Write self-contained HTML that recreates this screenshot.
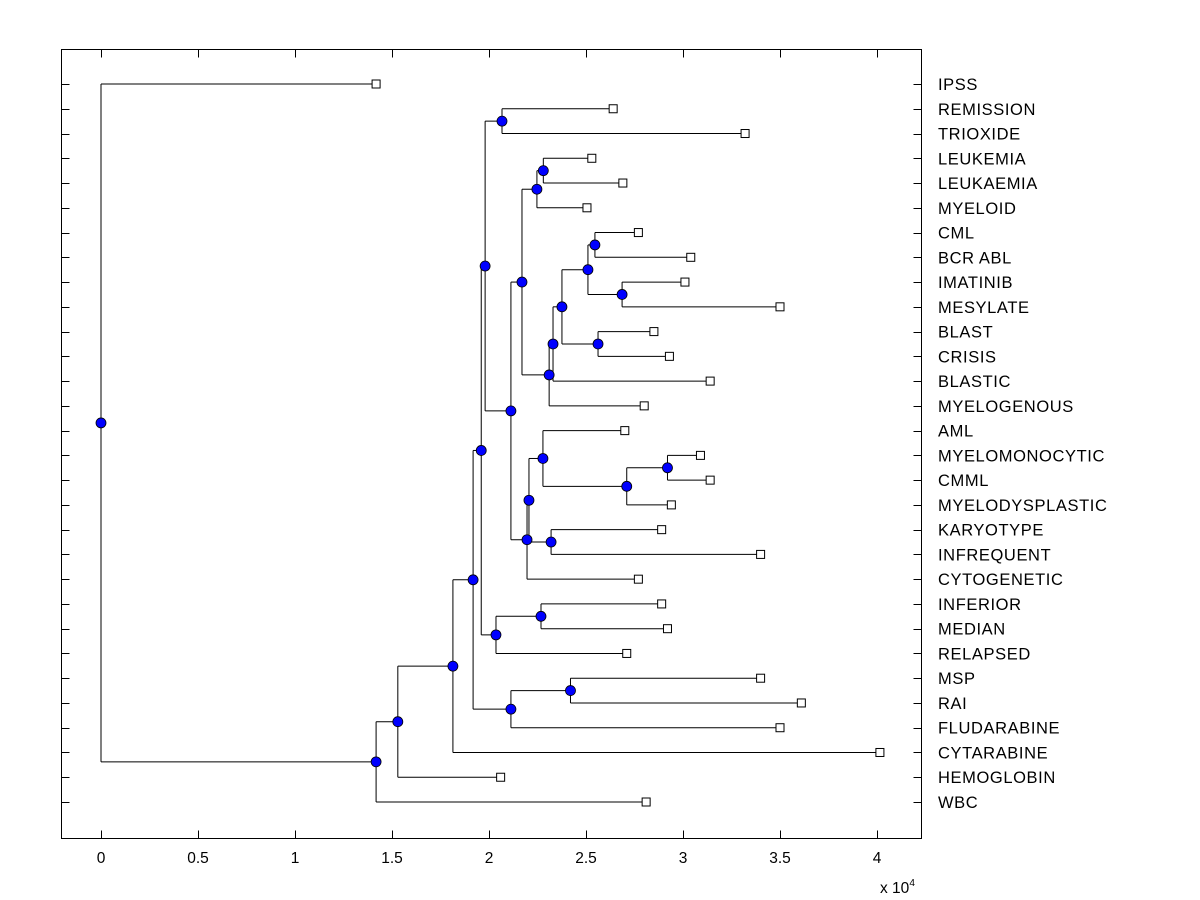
<!DOCTYPE html>
<html><head><meta charset="utf-8"><style>
html,body{margin:0;padding:0;background:#fff;}
svg{display:block;font-family:"Liberation Sans",Arial,sans-serif;}
</style></head><body>
<svg id="chart" width="1200" height="900" viewBox="0 0 1200 900" xmlns="http://www.w3.org/2000/svg">
<rect x="0" y="0" width="1200" height="900" fill="#fff"/>
<g id="axes"></g>
<g id="tree"></g>
<g id="labels"></g>
</svg>
<script>
const leafNames = ["IPSS","REMISSION","TRIOXIDE","LEUKEMIA","LEUKAEMIA","MYELOID","CML","BCR ABL","IMATINIB","MESYLATE","BLAST","CRISIS","BLASTIC","MYELOGENOUS","AML","MYELOMONOCYTIC","CMML","MYELODYSPLASTIC","KARYOTYPE","INFREQUENT","CYTOGENETIC","INFERIOR","MEDIAN","RELAPSED","MSP","RAI","FLUDARABINE","CYTARABINE","HEMOGLOBIN","WBC"];
const leafValues = [1.418,2.64,3.32,2.53,2.69,2.505,2.77,3.04,3.01,3.50,2.85,2.93,3.14,2.80,2.70,3.09,3.14,2.94,2.89,3.40,2.77,2.89,2.92,2.71,3.40,3.61,3.50,4.015,2.06,2.81];
const mergeLeft  = [15,30,6,8,10,32,35,36,37,3,39,40,14,18,42,44,41,1,47,21,49,48,24,52,51,54,55,56,0];
const mergeRight = [16,17,7,9,11,33,34,12,13,4,5,38,31,19,43,20,45,2,46,22,23,50,25,26,53,27,28,29,57];
const mergeHeight= [2.92,2.71,2.546,2.686,2.562,2.51,2.376,2.33,2.31,2.28,2.247,2.17,2.278,2.32,2.206,2.196,2.113,2.067,1.98,2.268,2.036,1.96,2.42,2.113,1.918,1.814,1.53,1.418,0];
const xTicks = [0,0.5,1,1.5,2,2.5,3,3.5,4];

const NS="http://www.w3.org/2000/svg";
const L=61.5,R=921.5,T=49.5,B=838.5;
const xS=v=>101+v*194;
const rowY=i=>84+i*(802-84)/29;
function mk(tag,attrs,parent){const e=document.createElementNS(NS,tag);for(const k in attrs)e.setAttribute(k,attrs[k]);parent.appendChild(e);return e;}
const axes=document.getElementById('axes'),tree=document.getElementById('tree'),labels=document.getElementById('labels');

const box=mk('rect',{x:L,y:T,width:R-L,height:B-T,fill:'none',stroke:'#000','stroke-width':1},axes);


xTicks.forEach(t=>{
  const x=Math.round(xS(t))+0.5;
  const a=mk('line',{x1:x,y1:B,x2:x,y2:B-8,stroke:'#000'},axes);
  
  
  const b=mk('line',{x1:x,y1:T,x2:x,y2:T+8,stroke:'#000'},axes);
  
  
  const tx=mk('text',{x:xS(t),y:863,'font-size':15.5,'text-anchor':'middle',fill:'#000'},axes);
  tx.textContent=String(t);
  
  
});
const ex=mk('text',{x:880,y:893,'font-size':15.5,fill:'#000'},axes);
ex.innerHTML='x 10<tspan dy="-7" font-size="10">4</tspan>';



leafNames.forEach((n,i)=>{
  const y=Math.round(rowY(i))+0.5;
  const a=mk('line',{x1:L,y1:y,x2:L+8,y2:y,stroke:'#000'},axes);
  
  
  const b=mk('line',{x1:R,y1:y,x2:R-8,y2:y,stroke:'#000'},axes);
  
  
  const t=mk('text',{x:938,y:rowY(i)+6,'font-size':16.5,'letter-spacing':0.6,fill:'#000'},labels);
  t.textContent=n;
  
  
});

const nx=[],ny=[];
leafValues.forEach((v,i)=>{nx[i]=xS(v);ny[i]=rowY(i);});
const N=leafValues.length;
const dots=[];
mergeLeft.forEach((l,k)=>{
  const r=mergeRight[k],id=N+k,x=xS(mergeHeight[k]);
  nx[id]=x;ny[id]=(ny[l]+ny[r])/2;
  const v=mk('line',{x1:x,y1:Math.min(ny[l],ny[r]),x2:x,y2:Math.max(ny[l],ny[r]),stroke:'#000'},tree);
  
  
  [l,r].forEach(c=>{
    const h=mk('line',{x1:x,y1:ny[c],x2:nx[c],y2:ny[c],stroke:'#000'},tree);
    
    
  });
  dots.push(id);
});
leafValues.forEach((v,i)=>{
  const s=mk('rect',{x:nx[i]-4,y:ny[i]-4,width:8,height:8,fill:'#fff',stroke:'#000'},tree);
  
  
});
dots.forEach(id=>{
  const c=mk('circle',{cx:nx[id],cy:ny[id],r:5,fill:'#0000ff',stroke:'#000','stroke-width':0.8},tree);
  
  
});
</script>
</body></html>
